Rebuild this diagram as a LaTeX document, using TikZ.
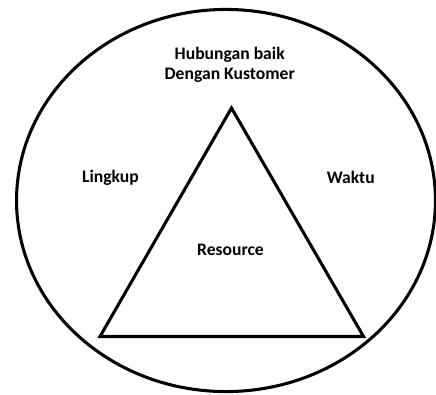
\documentclass[tikz,border=0pt]{standalone}
\usepackage{fontspec}
\setmainfont{Carlito}
\begin{document}
\begin{tikzpicture}[x=0.75pt,y=-0.75pt,
  shapeline/.style={draw=black,line width=2.3pt},
  lbl/.style={font=\fontsize{13.2pt}{15pt}\selectfont\bfseries,inner sep=0pt,align=center}]
\useasboundingbox (0,0) rectangle (436,394);
\draw[shapeline] (226,200.5) ellipse [x radius=157.1pt, y radius=143.3pt];
\coordinate (apex) at (231.5,108);
\coordinate (bl) at (100,336.5);
\coordinate (br) at (363.5,336.5);
\draw[shapeline,line join=miter] (apex) -- (br) -- (bl) -- cycle;
\node[lbl] (hub) at (229.7,65) {Hubungan baik\\Dengan Kustomer};
\node[lbl] (lingkup) at (110.5,178) {Lingkup};
\node[lbl] (waktu) at (350.8,177) {Waktu};
\node[lbl] (res) at (230.5,250) {Resource};
\end{tikzpicture}
\end{document}
